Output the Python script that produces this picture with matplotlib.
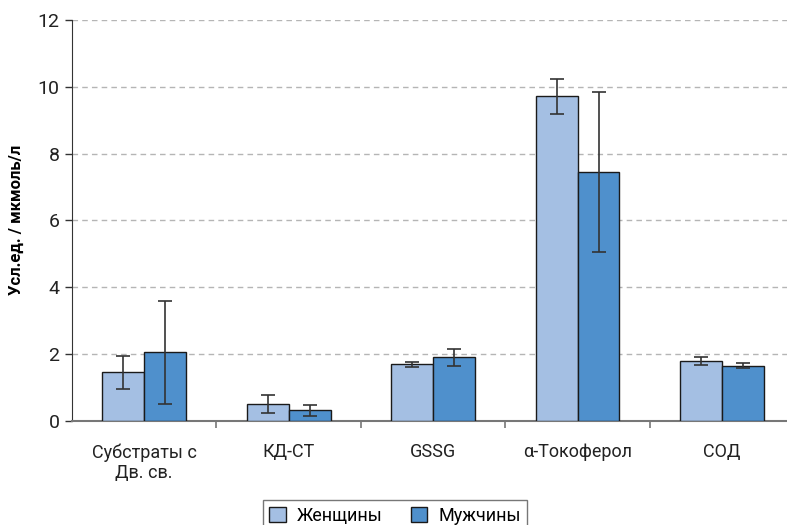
import numpy as np
import matplotlib
matplotlib.use('Agg')
import matplotlib.pyplot as plt

plt.rcParams['font.family'] = ['Roboto', 'DejaVu Sans']

categories = ['Субстраты с\nДв. св.', 'КД-СТ', 'GSSG', 'α-Токоферол', 'СОД']
women = [1.45, 0.50, 1.69, 9.71, 1.79]
women_err = [0.50, 0.26, 0.07, 0.53, 0.12]
men = [2.05, 0.31, 1.90, 7.45, 1.65]
men_err = [1.55, 0.16, 0.26, 2.39, 0.08]
series_labels = ['Женщины', 'Мужчины']
yticks = [0, 2, 4, 6, 8, 10, 12]

fig = plt.figure(figsize=(7.87, 5.25), dpi=100)
ax = fig.add_axes([0.0915, 0.1985, 0.9085, 0.7635])

x = np.arange(len(categories))
w = 0.29
err_kw = dict(ecolor='#333333', elinewidth=1.2, capsize=5, capthick=1.2)
ax.bar(x - w / 2, women, w, yerr=women_err, color='#a4bfe3', edgecolor='#1a1a1a',
       linewidth=1.0, label=series_labels[0], error_kw=err_kw, zorder=3)
ax.bar(x + w / 2, men, w, yerr=men_err, color='#4f90cc', edgecolor='#1a1a1a',
       linewidth=1.0, label=series_labels[1], error_kw=err_kw, zorder=3)

ax.set_xlim(-0.5, 4.45)
ax.set_ylim(0, 12)
ax.set_yticks(yticks)
ax.set_yticklabels([str(t) for t in yticks], fontsize=14, color='#222222')
ax.yaxis.grid(True, linestyle=(0, (4, 3)), color='#b5b5b5', linewidth=1.0, zorder=0)

ax.set_xticks(x)
ax.set_xticklabels(categories, fontsize=13, color='#222222')
ax.tick_params(axis='x', length=0, pad=16)
ax.set_xticks(np.arange(0.5, 4.5, 1), minor=True)
ax.tick_params(axis='x', which='minor', length=5, color='#777777', width=1.2)
ax.tick_params(axis='y', length=5, width=1.0, color='#333333', pad=4)

ax.spines['top'].set_visible(False)
ax.spines['right'].set_visible(False)
ax.spines['left'].set_color('#333333')
ax.spines['bottom'].set_color('#777777')
ax.spines['bottom'].set_linewidth(1.5)

ax.set_ylabel('Усл.ед. / мкмоль/л', fontsize=12, fontweight='bold', labelpad=10)

leg = fig.legend(loc='upper center', bbox_to_anchor=(0.502, 0.064), ncol=2,
                 fontsize=13, frameon=True, fancybox=False, edgecolor='#555555',
                 handlelength=0.9, handleheight=0.9, columnspacing=1.6,
                 handletextpad=0.6, borderpad=0.35)
leg.get_frame().set_linewidth(1.0)

fig.savefig('out.png', dpi=100)
